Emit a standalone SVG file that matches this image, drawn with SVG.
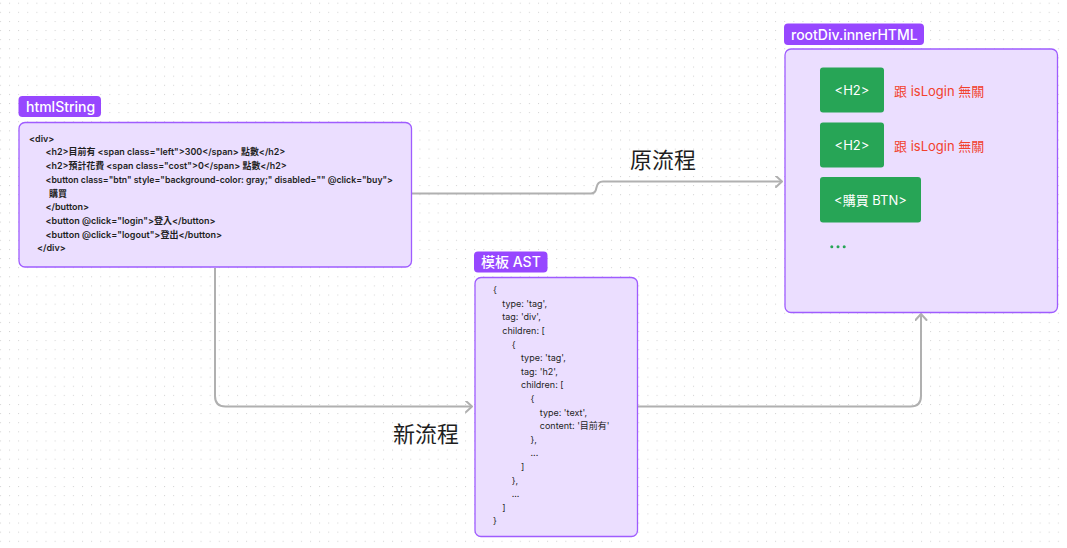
<svg xmlns="http://www.w3.org/2000/svg" width="1067" height="548" viewBox="0 0 1067 548">
  <style>
    .tag { fill: #9747ff; }
    .tagtxt { fill: #ffffff; font-family: Inter, "Noto Sans", "Noto Sans CJK TC", sans-serif; font-size: 14px; font-weight: 500; }
    .panel { fill: #ebdeff; stroke: #9f5cff; stroke-width: 1.3; }
    .code { fill: #1e1e1e; font-family: Inter, "Noto Sans", "Noto Sans CJK TC", sans-serif; font-size: 9px; }
    .bold { font-weight: 600; }
    .chip { fill: #27a556; }
    .chiptxt { fill: #ffffff; font-family: Inter, "Noto Sans", "Noto Sans CJK TC", sans-serif; font-size: 13px; text-anchor: middle; }
    .note { fill: #f2412d; font-family: Inter, "Noto Sans", "Noto Sans CJK TC", sans-serif; font-size: 13px; }
    .flowlbl { fill: #1e1e1e; font-family: "Noto Sans CJK TC", "Noto Sans", sans-serif; font-size: 22px; }
    .wire { fill: none; stroke: #b0b0b0; stroke-width: 2; }
  </style>
  <defs>
    <pattern id="dots" x="-0.1" y="2.7" width="9.12" height="9.12" patternUnits="userSpaceOnUse">
      <rect x="0" y="0" width="1" height="1" fill="#d2d2d2"/>
    </pattern>
    <marker id="chev" markerUnits="userSpaceOnUse" markerWidth="14" markerHeight="14" refX="7" refY="6" orient="auto">
      <path d="M1,0.5 L7,6 L1,11.5" fill="none" stroke="#b0b0b0" stroke-width="2" stroke-linecap="round" stroke-linejoin="round"/>
    </marker>
  </defs>

  <!-- canvas -->
  <rect width="1067" height="548" fill="#ffffff"/>
  <rect width="1067" height="548" fill="url(#dots)"/>

  <!-- connectors -->
  <g id="connectors">
    <path class="wire" d="M412,193.5 H591 Q595.5,193.5 596.5,187.5 Q597.5,181.5 603,181.5 H782" marker-end="url(#chev)"/>
    <path class="wire" d="M215,268 V396 Q215,406.5 225.5,406.5 H472" marker-end="url(#chev)"/>
    <path class="wire" d="M638,406.5 H910.5 Q921,406.5 921,396 V314" marker-end="url(#chev)"/>
    <text class="flowlbl" x="663" y="167.5" text-anchor="middle">原流程</text>
    <text class="flowlbl" x="426" y="441.5" text-anchor="middle">新流程</text>
  </g>

  <!-- htmlString -->
  <g id="htmlString">
    <rect class="tag" x="18.5" y="96" width="82.5" height="21" rx="4"/>
    <text class="tagtxt" x="26" y="111.5" font-weight="600">htmlString</text>
    <rect class="panel" x="19" y="122.5" width="392.5" height="144.5" rx="6"/>
    <g class="code bold">
      <text x="29" y="141.5">&lt;div&gt;</text>
      <text x="45.5" y="155.2" textLength="239.8" lengthAdjust="spacingAndGlyphs">&lt;h2&gt;目前有 &lt;span class="left"&gt;300&lt;/span&gt; 點數&lt;/h2&gt;</text>
      <text x="45.5" y="169" textLength="241.2" lengthAdjust="spacingAndGlyphs">&lt;h2&gt;預計花費 &lt;span class="cost"&gt;0&lt;/span&gt; 點數&lt;/h2&gt;</text>
      <text x="45.5" y="182.8" textLength="347.5" lengthAdjust="spacingAndGlyphs">&lt;button class="btn" style="background-color: gray;" disabled="" @click="buy"&gt;</text>
      <text x="49" y="196.5">購買</text>
      <text x="45.5" y="210.3">&lt;/button&gt;</text>
      <text x="45.5" y="224">&lt;button @click="login"&gt;登入&lt;/button&gt;</text>
      <text x="45.5" y="237.7">&lt;button @click="logout"&gt;登出&lt;/button&gt;</text>
      <text x="37" y="251.2">&lt;/div&gt;</text>
    </g>
  </g>

  <!-- template AST -->
  <g id="templateAST">
    <rect class="tag" x="474" y="251.5" width="73.5" height="21" rx="4"/>
    <text class="tagtxt" x="481" y="267" font-weight="600">模板 AST</text>
    <rect class="panel" x="475" y="277.5" width="162.5" height="259" rx="6"/>
    <g class="code">
      <text x="493" y="293.2">{</text>
      <text x="502.3" y="306.8">type: 'tag',</text>
      <text x="502.3" y="320.4">tag: 'div',</text>
      <text x="502.3" y="334">children: [</text>
      <text x="511.7" y="347.6">{</text>
      <text x="521" y="361.2">type: 'tag',</text>
      <text x="521" y="374.8">tag: 'h2',</text>
      <text x="521" y="388.4">children: [</text>
      <text x="530.5" y="402">{</text>
      <text x="539.8" y="415.6">type: 'text',</text>
      <text x="539.8" y="429.2">content: '目前有'</text>
      <text x="530.5" y="442.8">},</text>
      <text x="530.5" y="456.4">...</text>
      <text x="521" y="470">]</text>
      <text x="511.7" y="483.6">},</text>
      <text x="511.7" y="497.2">...</text>
      <text x="502.3" y="510.8">]</text>
      <text x="493" y="524.4">}</text>
    </g>
  </g>

  <!-- rootDiv.innerHTML -->
  <g id="rootDivInnerHTML">
    <rect class="tag" x="784" y="23.5" width="140" height="21.5" rx="4"/>
    <text class="tagtxt" x="791" y="39.5">rootDiv.innerHTML</text>
    <rect class="panel" x="785" y="49" width="272.5" height="263.5" rx="6"/>
  </g>

  <g id="h2First">
    <rect class="chip" x="820" y="67.5" width="64" height="45" rx="3"/>
    <text class="chiptxt" x="852" y="95">&lt;H2&gt;</text>
    <text class="note" x="894" y="95.5">跟 isLogin 無關</text>
  </g>

  <g id="h2Second">
    <rect class="chip" x="820" y="122.5" width="64" height="45" rx="3"/>
    <text class="chiptxt" x="852" y="150">&lt;H2&gt;</text>
    <text class="note" x="894" y="150.5">跟 isLogin 無關</text>
  </g>

  <g id="buyBtn">
    <rect class="chip" x="820" y="177" width="101" height="45.5" rx="3"/>
    <text class="chiptxt" x="870.5" y="204.5">&lt;購買 BTN&gt;</text>
  </g>

  <g id="moreItems" fill="#27a556">
    <circle cx="831.8" cy="246.8" r="1.5"/>
    <circle cx="838" cy="246.8" r="1.5"/>
    <circle cx="844.2" cy="246.8" r="1.5"/>
  </g>
</svg>
